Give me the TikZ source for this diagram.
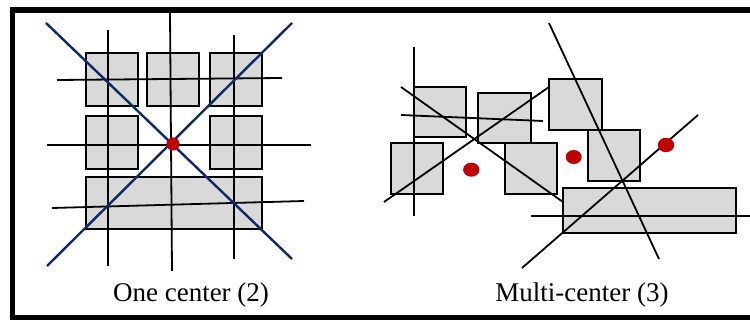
\documentclass[tikz,border=0pt]{standalone}
\usepackage{fontspec}
\setmainfont{Liberation Serif}
\definecolor{boxgray}{HTML}{D9D9D9}
\definecolor{navyline}{HTML}{0D2A66}
\definecolor{dotred}{HTML}{C00000}
\tikzset{
  graybox/.style={draw=black, fill=boxgray, line width=2.2pt},
  blk/.style={draw=black, line width=1.8pt},
  blu/.style={draw=navyline, line width=2.4pt},
  dot/.style={fill=dotred},
  caption/.style={font=\fontsize{27}{30}\selectfont, anchor=base}
}
\begin{document}
\begin{tikzpicture}[x=1pt,y=-1pt]
\clip (0,0) rectangle (750,320);
\fill[white] (0,0) rectangle (750,320);
% frame
\draw[line width=5.5pt] (12.5,9.8) rectangle (760,317.5);
% ---------- left panel ----------
\path[graybox] (86,53) rectangle (138,106);
\path[graybox] (147,53) rectangle (199,106);
\path[graybox] (210,53) rectangle (262,106);
\path[graybox] (86,116) rectangle (138,169);
\path[graybox] (210,116) rectangle (262,169);
\path[graybox] (86,177) rectangle (262,229);
\draw[blk] (108,30) -- (108,266);
\draw[blk] (170,13) -- (172,271);
\draw[blk] (234,35) -- (234,259);
\draw[blk] (57,80) -- (282,78);
\draw[blk] (47,145) -- (311,145);
\draw[blk] (52,208) -- (304,201);
\draw[blu] (46,23) -- (292,259);
\draw[blu] (47,266) -- (292,23);
\fill[dot] (173,144) circle (6.6);
\node[caption] (capA) at (191,302) {One center (2)};
% ---------- right panel ----------
\path[graybox] (414,87) rectangle (466,137);
\path[graybox] (478,93) rectangle (531,143);
\path[graybox] (549,79) rectangle (602,130);
\path[graybox] (391,143) rectangle (443,194);
\path[graybox] (505,143) rectangle (557,194);
\path[graybox] (588,130) rectangle (640,181);
\path[graybox] (563,188) rectangle (736,233);
\draw[blk] (414,47) -- (414,216);
\draw[blk] (401,87) -- (563,202);
\draw[blk] (401,115) -- (543,121);
\draw[blk] (384,202) -- (549,87);
\draw[blk] (549,23) -- (659,259);
\draw[blk] (522,268) -- (698,115);
\draw[blk] (531,216) -- (752,216);
\fill[dot] (471.3,169.7) ellipse (8.2 and 7);
\fill[dot] (573.7,157) ellipse (8 and 7);
\fill[dot] (666,145) ellipse (8.2 and 7.2);
\node[caption] (capB) at (582,302) {Multi-center (3)};
\end{tikzpicture}
\end{document}
